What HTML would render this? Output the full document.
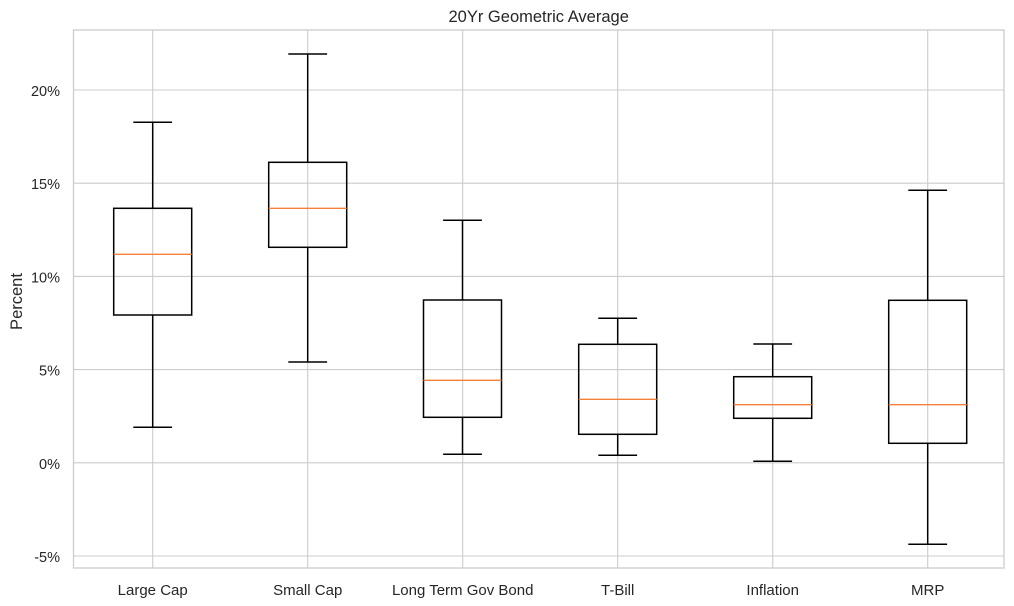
<!DOCTYPE html>
<html>
<head>
<meta charset="utf-8">
<style>
  html, body { margin: 0; padding: 0; background: #ffffff; }
  svg { display: block; }
  text { font-family: "Liberation Sans", Arial, sans-serif; fill: #262626; }
</style>
</head>
<body>
<svg width="1014" height="606" viewBox="0 0 1014 606" xmlns="http://www.w3.org/2000/svg">
  <rect x="0" y="0" width="1014" height="606" fill="#ffffff"/>

  <!-- grid -->
  <g stroke="#cccccc" stroke-width="1.1" fill="none">
    <line x1="73.5" y1="90" x2="1004" y2="90"/>
    <line x1="73.5" y1="183.2" x2="1004" y2="183.2"/>
    <line x1="73.5" y1="276.4" x2="1004" y2="276.4"/>
    <line x1="73.5" y1="369.6" x2="1004" y2="369.6"/>
    <line x1="73.5" y1="462.8" x2="1004" y2="462.8"/>
    <line x1="73.5" y1="556" x2="1004" y2="556"/>
    <line x1="152.7" y1="30" x2="152.7" y2="568"/>
    <line x1="307.7" y1="30" x2="307.7" y2="568"/>
    <line x1="462.7" y1="30" x2="462.7" y2="568"/>
    <line x1="617.7" y1="30" x2="617.7" y2="568"/>
    <line x1="772.7" y1="30" x2="772.7" y2="568"/>
    <line x1="927.7" y1="30" x2="927.7" y2="568"/>
  </g>

  <!-- spines -->
  <rect x="73.5" y="30" width="930.5" height="538" fill="none" stroke="#cccccc" stroke-width="1.3"/>

  <!-- boxes -->
  <g stroke="#000000" stroke-width="1.5" fill="none">
    <!-- Large Cap -->
    <line x1="152.7" y1="122.3" x2="152.7" y2="208.3"/>
    <line x1="152.7" y1="315" x2="152.7" y2="427.3"/>
    <line x1="133.3" y1="122.3" x2="172.1" y2="122.3"/>
    <line x1="133.3" y1="427.3" x2="172.1" y2="427.3"/>
    <rect x="113.7" y="208.3" width="78" height="106.7"/>
    <!-- Small Cap -->
    <line x1="307.7" y1="54" x2="307.7" y2="162.3"/>
    <line x1="307.7" y1="247.3" x2="307.7" y2="362"/>
    <line x1="288.3" y1="54" x2="327.1" y2="54"/>
    <line x1="288.3" y1="362" x2="327.1" y2="362"/>
    <rect x="268.7" y="162.3" width="78" height="85"/>
    <!-- Long Term Gov Bond -->
    <line x1="462.5" y1="220.3" x2="462.5" y2="300"/>
    <line x1="462.5" y1="417.3" x2="462.5" y2="454.3"/>
    <line x1="443.1" y1="220.3" x2="481.9" y2="220.3"/>
    <line x1="443.1" y1="454.3" x2="481.9" y2="454.3"/>
    <rect x="423.5" y="300" width="78" height="117.3"/>
    <!-- T-Bill -->
    <line x1="617.7" y1="318.3" x2="617.7" y2="344.3"/>
    <line x1="617.7" y1="434.3" x2="617.7" y2="455.3"/>
    <line x1="598.3" y1="318.3" x2="637.1" y2="318.3"/>
    <line x1="598.3" y1="455.3" x2="637.1" y2="455.3"/>
    <rect x="578.7" y="344.3" width="78" height="90"/>
    <!-- Inflation -->
    <line x1="772.7" y1="344" x2="772.7" y2="376.7"/>
    <line x1="772.7" y1="418.3" x2="772.7" y2="461.3"/>
    <line x1="753.3" y1="344" x2="792.1" y2="344"/>
    <line x1="753.3" y1="461.3" x2="792.1" y2="461.3"/>
    <rect x="733.7" y="376.7" width="78" height="41.6"/>
    <!-- MRP -->
    <line x1="927.7" y1="190.3" x2="927.7" y2="300.3"/>
    <line x1="927.7" y1="443.3" x2="927.7" y2="544.3"/>
    <line x1="908.3" y1="190.3" x2="947.1" y2="190.3"/>
    <line x1="908.3" y1="544.3" x2="947.1" y2="544.3"/>
    <rect x="888.7" y="300.3" width="78" height="143"/>
  </g>

  <!-- medians -->
  <g stroke="#f4803a" stroke-width="1.4">
    <line x1="113.7" y1="254.3" x2="191.7" y2="254.3"/>
    <line x1="268.7" y1="208.3" x2="346.7" y2="208.3"/>
    <line x1="423.5" y1="380.3" x2="501.5" y2="380.3"/>
    <line x1="578.7" y1="399.3" x2="656.7" y2="399.3"/>
    <line x1="733.7" y1="404.7" x2="811.7" y2="404.7"/>
    <line x1="888.7" y1="404.7" x2="966.7" y2="404.7"/>
  </g>

  <!-- title -->
  <text x="538.7" y="22" font-size="16.5" text-anchor="middle">20Yr Geometric Average</text>

  <!-- y tick labels -->
  <g font-size="14.5" text-anchor="end">
    <text x="60" y="96">20%</text>
    <text x="60" y="189.2">15%</text>
    <text x="60" y="282.4">10%</text>
    <text x="60" y="375.6">5%</text>
    <text x="60" y="468.8">0%</text>
    <text x="60" y="562">-5%</text>
  </g>

  <!-- y label -->
  <text x="22" y="301.5" font-size="16.5" text-anchor="middle" transform="rotate(-90 22 301.5)">Percent</text>

  <!-- x tick labels -->
  <g font-size="15" text-anchor="middle">
    <text x="152.7" y="595">Large Cap</text>
    <text x="307.7" y="595">Small Cap</text>
    <text x="462.7" y="595">Long Term Gov Bond</text>
    <text x="617.7" y="595">T-Bill</text>
    <text x="772.7" y="595">Inflation</text>
    <text x="927.7" y="595">MRP</text>
  </g>
</svg>
</body>
</html>
